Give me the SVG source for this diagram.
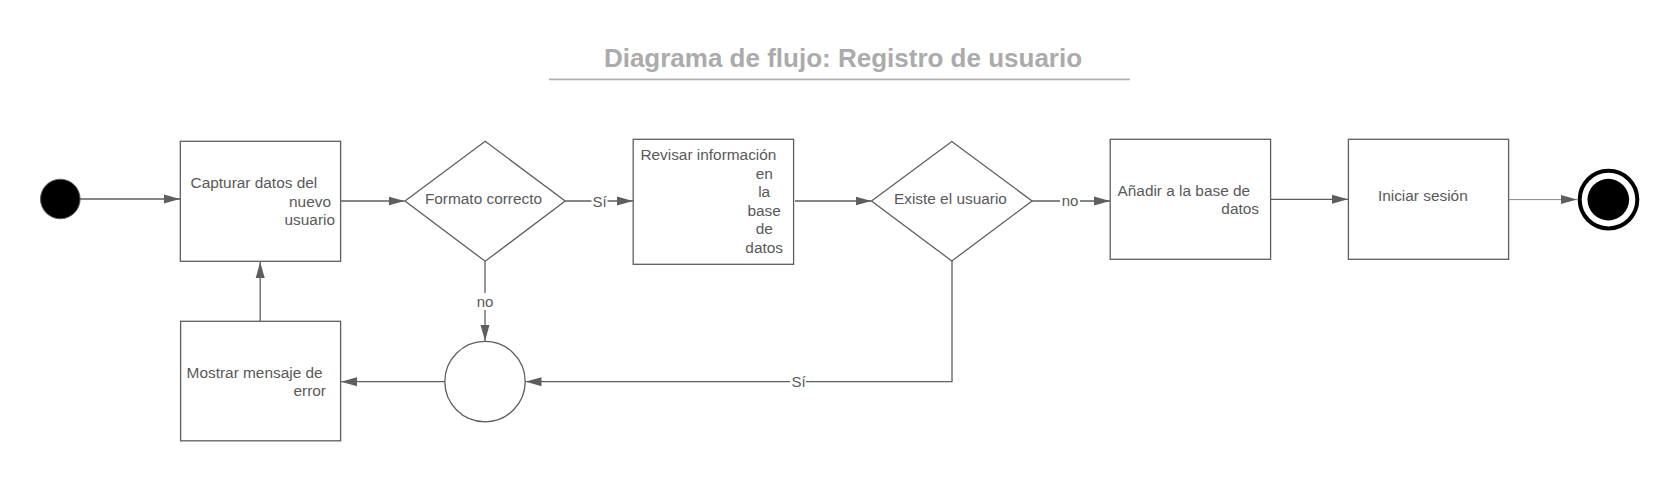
<svg xmlns="http://www.w3.org/2000/svg" width="1672" height="504" viewBox="0 0 1672 504">
  <style>
    .box { fill: #ffffff; stroke: #5e5e5e; stroke-width: 1.3; }
    .t { font-family: "Liberation Sans", Arial, sans-serif; font-size: 15.4px; fill: #595959; }
    .lbl { font-family: "Liberation Sans", Arial, sans-serif; font-size: 15px; fill: #595959; text-anchor: middle; }
    .conn { fill: none; stroke: #5e5e5e; stroke-width: 1.3; marker-end: url(#arrow); }
    .thin { stroke: #8a8a8a; stroke-width: 1; }
    .title { font-family: "Liberation Sans", Arial, sans-serif; font-size: 26px; font-weight: bold; fill: #ababab; text-anchor: middle; }
  </style>
  <defs>
    <marker id="arrow" markerUnits="userSpaceOnUse" markerWidth="16" markerHeight="10" refX="16" refY="5" orient="auto">
      <path d="M0,0.5 L16,5 L0,9.5 Z" fill="#5e5e5e"/>
    </marker>
  </defs>
  <rect width="1672" height="504" fill="#ffffff"/>

  <g id="title">
    <text class="title" x="843" y="66.5">Diagrama de flujo: Registro de usuario</text>
    <line x1="549" y1="79.3" x2="1130" y2="79.3" stroke="#b0b0b0" stroke-width="1.8"/>
  </g>

  <g id="connectors">
    <path class="conn" d="M80,199 L180,199"/>
    <path class="conn" d="M340.6,201 L404.5,201"/>
    <path class="conn" d="M565.2,201 L633,201"/>
    <path class="conn" d="M795,201 L871.5,201"/>
    <path class="conn" d="M1032,201 L1110,201"/>
    <path class="conn" d="M1270.6,199.3 L1348,199.3"/>
    <path class="conn thin" d="M1508.6,199.6 L1577,199.6"/>
    <path class="conn" d="M485,261.3 L485,341"/>
    <path class="conn" d="M952,261 L952,381.7 L525.5,381.7"/>
    <path class="conn" d="M445,381.7 L341,381.7"/>
    <path class="conn" d="M260.2,321 L260.2,262"/>
    <g id="labels">
      <rect x="591.5" y="192" width="16" height="17" fill="#ffffff"/>
      <text class="lbl" x="599.5" y="206.5">Sí</text>
      <rect x="1060" y="192" width="20" height="17" fill="#ffffff"/>
      <text class="lbl" x="1070" y="206">no</text>
      <rect x="475" y="293" width="20" height="17" fill="#ffffff"/>
      <text class="lbl" x="485" y="307">no</text>
      <rect x="790" y="373" width="16" height="17" fill="#ffffff"/>
      <text class="lbl" x="798.5" y="387">Sí</text>
    </g>
  </g>

  <g id="start">
    <circle cx="60.3" cy="199" r="19.8" fill="#000000" stroke="#5e5e5e" stroke-width="1"/>
  </g>

  <g id="capturar">
    <rect class="box" x="180.3" y="141.3" width="160.3" height="120"/>
    <text class="t" x="190.6" y="188">Capturar datos del</text>
    <text class="t" x="331" y="206.5" text-anchor="end">nuevo</text>
    <text class="t" x="335" y="225" text-anchor="end">usuario</text>
  </g>

  <g id="formato">
    <path class="box" d="M405,201 L485.2,141.3 L565.2,201 L485.2,261.3 Z"/>
    <text class="t" x="483.5" y="203.5" text-anchor="middle">Formato correcto</text>
  </g>

  <g id="revisar">
    <rect class="box" x="633.2" y="139.3" width="160.4" height="125"/>
    <text class="t" x="640.4" y="160">Revisar información</text>
    <text class="t" x="764.2" y="178.5" text-anchor="middle">en</text>
    <text class="t" x="764.2" y="197" text-anchor="middle">la</text>
    <text class="t" x="764.2" y="215.5" text-anchor="middle">base</text>
    <text class="t" x="764.2" y="234" text-anchor="middle">de</text>
    <text class="t" x="764.2" y="252.7" text-anchor="middle">datos</text>
  </g>

  <g id="existe">
    <path class="box" d="M871.5,201 L951.8,141.5 L1032.1,201 L951.8,261 Z"/>
    <text class="t" x="950.4" y="203.5" text-anchor="middle">Existe el usuario</text>
  </g>

  <g id="anadir">
    <rect class="box" x="1110.2" y="139.3" width="160.4" height="120"/>
    <text class="t" x="1117.5" y="195.5">Añadir a la base de</text>
    <text class="t" x="1259" y="214" text-anchor="end">datos</text>
  </g>

  <g id="iniciar">
    <rect class="box" x="1348.4" y="139.3" width="160.2" height="120"/>
    <text class="t" x="1422.8" y="201" text-anchor="middle">Iniciar sesión</text>
  </g>

  <g id="merge">
    <circle class="box" cx="485" cy="381.6" r="40.2"/>
  </g>

  <g id="mostrar">
    <rect class="box" x="180.6" y="321.3" width="160" height="119.5"/>
    <text class="t" x="186.6" y="377.7">Mostrar mensaje de</text>
    <text class="t" x="326" y="395.7" text-anchor="end">error</text>
  </g>

  <g id="end">
    <circle cx="1608.5" cy="199.6" r="28.8" fill="#ffffff" stroke="#000000" stroke-width="4"/>
    <circle cx="1608.3" cy="199.6" r="20.8" fill="#000000"/>
  </g>
</svg>
